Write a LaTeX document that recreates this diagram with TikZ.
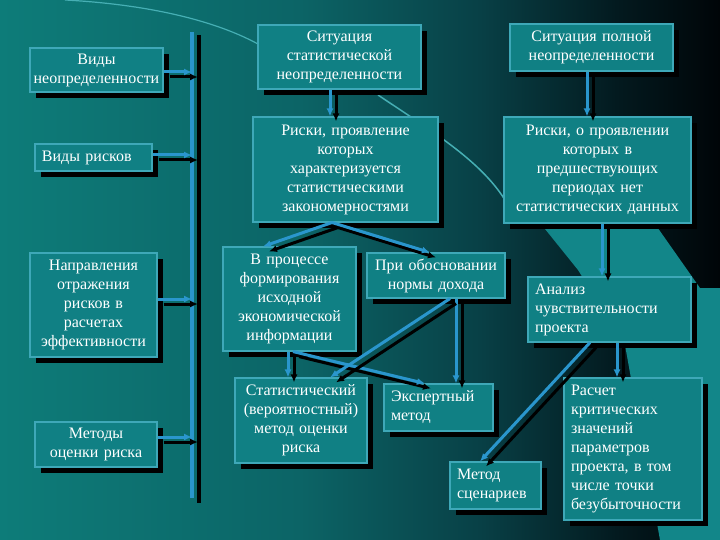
\documentclass[tikz,border=0pt]{standalone}
\usepackage{fontspec}
\setmainfont{Liberation Serif}
\usetikzlibrary{shadows,arrows.meta,calc}
\definecolor{bgA}{RGB}{13,124,121}
\definecolor{bgB}{RGB}{12,100,102}
\definecolor{bgC}{RGB}{8,64,70}
\definecolor{bgD}{RGB}{3,25,30}
\definecolor{bgE}{RGB}{0,5,8}
\definecolor{boxfill}{RGB}{16,128,132}
\definecolor{boxedge}{RGB}{62,168,184}
\definecolor{conblue}{RGB}{42,150,205}
\definecolor{deco}{RGB}{70,175,180}
\definecolor{decofill}{RGB}{18,134,137}
\tikzset{
  box/.style={draw=boxedge, line width=1.1bp, fill=boxfill, text=white,
    font=\fontsize{16bp}{19bp}\selectfont, inner ysep=0bp,
    drop shadow={shadow xshift=6bp, shadow yshift=-6bp, opacity=1, fill=black}},
  cbox/.style={box, align=center, inner xsep=2bp},
  lbox/.style={box, align=left, inner xsep=7bp},
  bline/.style={draw=conblue, line width=3bp, -{Latex[length=8bp,width=7bp]}},
  sline/.style={draw=black, line width=3bp, -{Latex[length=8bp,width=7bp]},
    transform canvas={xshift=6bp,yshift=-5bp}},
}
\newcommand\conn[2]{\draw[sline] #1 -- #2; \draw[bline] #1 -- #2;}
\begin{document}
\begin{tikzpicture}[x=1bp,y=-1bp]
\useasboundingbox (0,0) rectangle (720,540);
% background
\fill[left color=bgA, right color=bgB] (0,0) rectangle (300,540);
\fill[left color=bgB, right color=bgC] (300,0) rectangle (480,540);
\fill[left color=bgC, right color=bgD] (480,0) rectangle (620,540);
\fill[left color=bgD, right color=bgE] (620,0) rectangle (720,540);
% decorations
\fill[decofill] (541,224) -- (655,224) -- (700,288) -- (720,288) -- (720,540)
  -- (660,540) -- (625,345) -- (578,270) -- cycle;
\draw[deco, line width=1.2bp] (65,0) .. controls (140,4) and (210,18) .. (258,44);
\draw[deco, line width=1.5bp] (378,95) .. controls (430,130) and (480,160) .. (505,200);

% left column
\node[cbox, minimum width=133bp, minimum height=44bp, text width=129bp] (A1) at (96.5,70) {Виды\\неопределенности};
\node[lbox, minimum width=117bp, minimum height=27bp, text width=103bp] (A2) at (93.5,157.5) {Виды рисков};
\node[cbox, minimum width=127bp, minimum height=104bp, text width=123bp] (A3) at (93.5,305) {Направления\\отражения\\рисков в\\расчетах\\эффективности};
\node[cbox, minimum width=122bp, minimum height=45bp, text width=118bp] (A4) at (96,444.5) {Методы\\оценки риска};

% bar
\coordinate (bt) at (192,32);
\coordinate (bb) at (192,498);
\draw[black, line width=3.5bp] ([xshift=7bp,yshift=-3bp]bt) -- ([xshift=7bp,yshift=-5bp]bb);
\draw[conblue, line width=3.5bp] (bt) -- (bb);

% upper boxes
\node[cbox, minimum width=163bp, minimum height=64bp, text width=159bp] (B1) at (339.5,57) {Ситуация\\статистической\\неопределенности};
\node[cbox, minimum width=185bp, minimum height=105bp, text width=181bp] (B2) at (345.5,169.5) {Риски, проявление\\которых\\характеризуется\\статистическими\\закономерностями};
\node[cbox, minimum width=163bp, minimum height=47bp, text width=159bp] (C1) at (591.5,47.5) {Ситуация полной\\неопределенности};
\node[cbox, minimum width=187bp, minimum height=106bp, text width=183bp] (C2) at (597.5,170) {Риски, о проявлении\\которых в\\предшествующих\\периодах нет\\статистических данных};

% middle
\node[cbox, minimum width=133bp, minimum height=104bp, text width=129bp] (D1) at (289.5,299) {В процессе\\формирования\\исходной\\экономической\\информации};
\node[cbox, minimum width=138bp, minimum height=45bp, text width=134bp] (D2) at (436,275.5) {При обосновании\\нормы дохода};
\node[lbox, minimum width=163bp, minimum height=65bp, text width=149bp] (D3) at (609.5,309.5) {Анализ\\чувствительности\\проекта};

% lower
\node[cbox, minimum width=132bp, minimum height=85bp, text width=128bp] (E1) at (301,420.5) {Статистический\\(вероятностный)\\метод оценки\\риска};
\node[lbox, minimum width=109bp, minimum height=47bp, text width=95bp] (E2) at (438.5,407.5) {Экспертный\\метод};
\node[lbox, minimum width=91bp, minimum height=47bp, text width=77bp] (E3) at (495.5,485.5) {Метод\\сценариев};
\node[lbox, minimum width=138bp, minimum height=142bp, text width=124bp] (E4) at (633,449) {Расчет\\критических\\значений\\параметров\\проекта, в том\\числе точки\\безубыточности};

% horizontal arrows to bar
\coordinate (h1) at ([yshift=-2bp]A1.east);
\coordinate (h2) at ([yshift=2.5bp]A2.east);
\coordinate (h3) at ([yshift=6bp]A3.east);
\coordinate (h4) at ([yshift=7.5bp]A4.east);
\conn{(h1)}{(h1 -| bt)}
\conn{(h2)}{(h2 -| bt)}
\conn{(h3)}{(h3 -| bt)}
\conn{(h4)}{(h4 -| bt)}

% vertical connectors
\coordinate (v1) at ([xshift=-9.5bp]B1.south);
\coordinate (v2) at ([xshift=-4.5bp]C1.south);
\coordinate (v3) at ([xshift=4.5bp]C2.south);
\coordinate (v4) at ([xshift=-1.5bp]D1.south);
\coordinate (v5) at ([xshift=20bp]D2.south);
\coordinate (v6) at ([xshift=7.5bp]D3.south);
\conn{(v1)}{(v1 |- B2.north)}
\conn{(v2)}{(v2 |- C2.north)}
\conn{(v3)}{(v3 |- D3.north)}
\conn{(v4)}{(v4 |- E1.north)}
\conn{(v5)}{(v5 |- E2.north)}
\conn{(v6)}{(v6 |- E4.north)}

% diagonal connectors
\conn{([xshift=-13.5bp]B2.south)}{([xshift=-26.5bp]D1.north)}
\conn{([xshift=-13.5bp]B2.south)}{([xshift=-6bp]D2.north)}
\conn{([xshift=3.5bp]D1.south)}{([xshift=-13.5bp]E2.north)}
\conn{([xshift=14bp]D2.south)}{([xshift=29bp]E1.north)}
\conn{([xshift=-19.5bp]D3.south)}{([xshift=-15.5bp]E3.north)}
\end{tikzpicture}
\end{document}
